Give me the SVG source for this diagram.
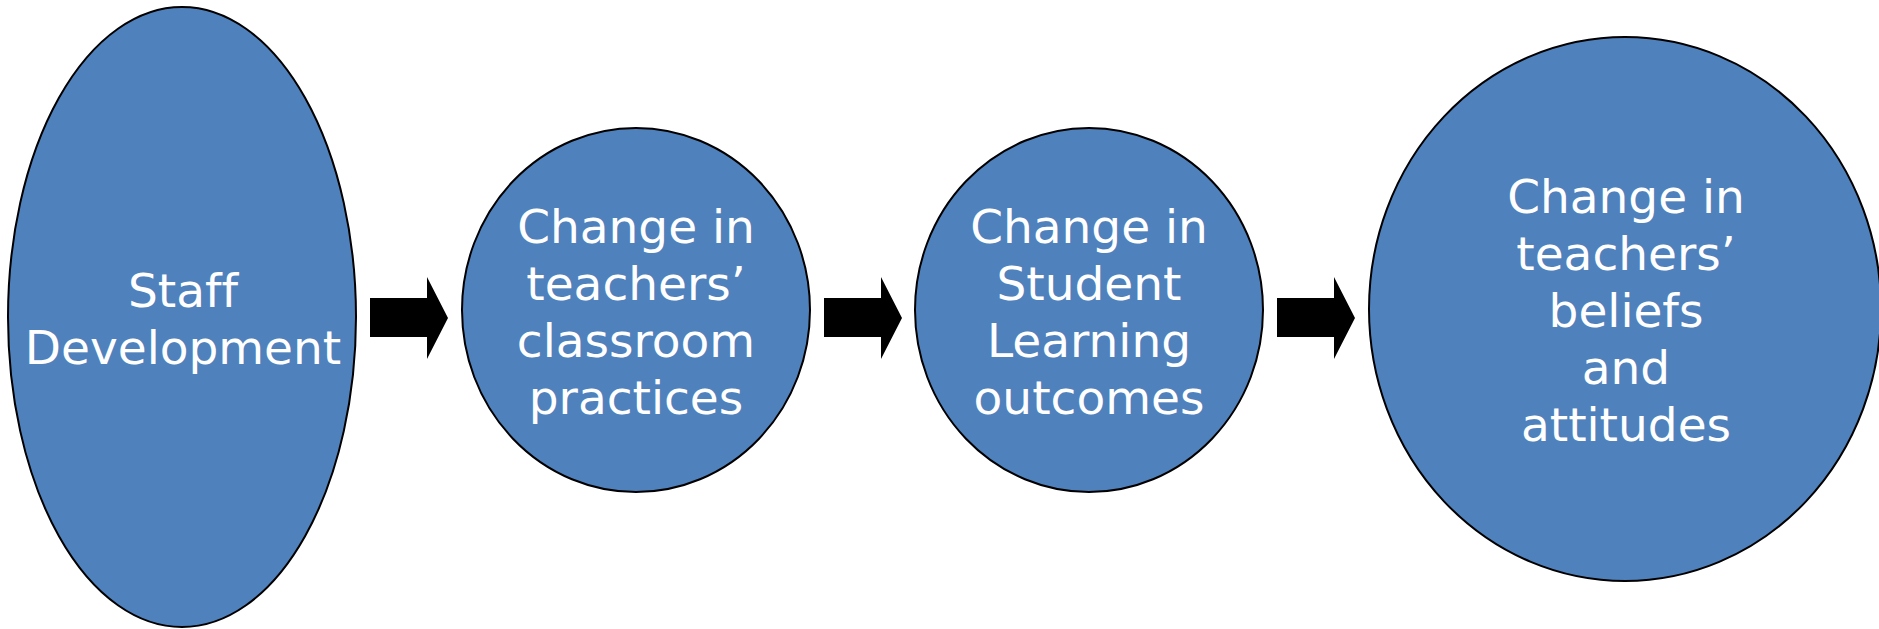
<svg xmlns="http://www.w3.org/2000/svg" width="1879" height="629" viewBox="0 0 1879 629">
<style>
.node{fill:#4F81BD;stroke:#000;stroke-width:2}
.lbl{fill:#fff;font-family:"DejaVu Sans",Verdana,sans-serif;font-size:47px;text-anchor:middle;font-variant-ligatures:none;font-feature-settings:"liga" 0}
.arr{fill:#000}
</style>
<rect width="1879" height="629" fill="#fff"/>
<g id="connectors">
<path class="arr" d="M370,298 H427 V277 L448,318 L427,359 V337 H370 Z"/>
<path class="arr" d="M824,298 H881 V277 L902,318 L881,359 V337 H824 Z"/>
<path class="arr" d="M1277,298 H1334 V277 L1355,318 L1334,359 V337 H1277 Z"/>
</g>
<g id="staff-development">
<ellipse class="node" cx="182" cy="317" rx="174" ry="310"/>
<text class="lbl"><tspan x="183" y="307">Staff</tspan><tspan x="183" y="364">Development</tspan></text>
</g>
<g id="classroom-practices">
<ellipse class="node" cx="636" cy="310" rx="174" ry="182"/>
<text class="lbl"><tspan x="636" y="243">Change in</tspan><tspan x="636" y="300">teachers’</tspan><tspan x="636" y="357">classroom</tspan><tspan x="636" y="414">practices</tspan></text>
</g>
<g id="student-learning">
<ellipse class="node" cx="1089" cy="310" rx="174" ry="182"/>
<text class="lbl"><tspan x="1089" y="243">Change in</tspan><tspan x="1089" y="300">Student</tspan><tspan x="1089" y="357">Learning</tspan><tspan x="1089" y="414">outcomes</tspan></text>
</g>
<g id="beliefs-attitudes">
<ellipse class="node" cx="1625" cy="309" rx="256" ry="272"/>
<text class="lbl"><tspan x="1626" y="213">Change in</tspan><tspan x="1626" y="270">teachers’</tspan><tspan x="1626" y="327">beliefs</tspan><tspan x="1626" y="384">and</tspan><tspan x="1626" y="441">attitudes</tspan></text>
</g>
</svg>
